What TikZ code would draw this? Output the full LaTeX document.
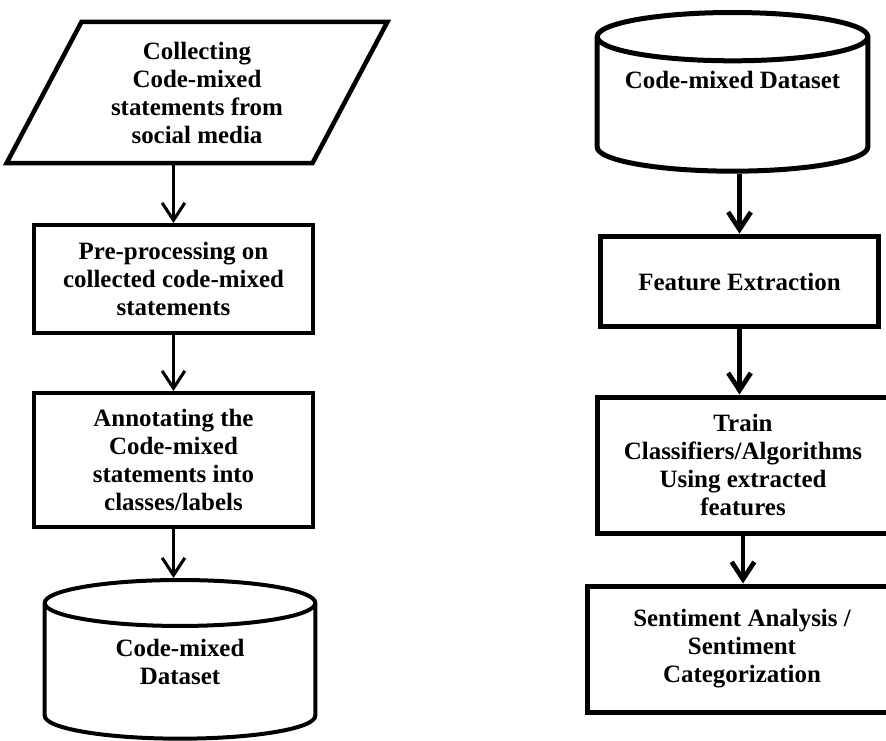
\documentclass[tikz,border=0pt]{standalone}
\usepackage{fontspec}
\setmainfont{Liberation Serif}
\usetikzlibrary{shapes.geometric,arrows.meta}

\tikzset{
  every node/.style={font=\fontsize{18.7}{21}\selectfont\bfseries, align=center},
  procbox/.style={draw, rectangle, line width=#1},
  procbox/.default=3pt,
  datacyl/.style={draw, cylinder, shape border rotate=90, aspect=0.22, anchor=north,
                  text width=#1, minimum width=203pt, minimum height=119pt},
  flow/.style={-{Straight Barb[length=13pt,width=17pt]}, line width=#1},
  flow/.default=2.3pt
}

\begin{document}
\begin{tikzpicture}[x=0.75pt,y=-0.75pt]
\useasboundingbox (0,0) rectangle (886,740);

% left column: building the dataset
\node[draw, trapezium, trapezium left angle=62, trapezium right angle=118, line width=3.4pt,
      minimum width=211pt, minimum height=106pt] (collect) at (197,92.5)
  {Collecting\\Code-mixed\\statements from\\social media};
\node[procbox, minimum width=209pt, minimum height=81pt] (preproc) at (173.5,279)
  {Pre-processing on\\collected code-mixed\\statements};
\node[procbox, minimum width=209pt, minimum height=100.5pt] (annot) at (173.5,460)
  {Annotating the\\Code-mixed\\statements into\\classes/labels};
\node[datacyl=150pt, line width=3pt] (dataL) at (180,578) {};
\node (dataLtext) at (180,662) {Code-mixed\\Dataset};

\draw[flow] (collect.south -| preproc.north) -- (preproc.north);
\draw[flow] (preproc.south) -- (preproc.south |- annot.north);
\draw[flow] (annot.south) -- (annot.south |- dataL.north);

% right column: classification
\node[datacyl=158pt, line width=3.75pt] (dataR) at (732.5,10) {};
\node (dataRtext) at (732.5,80) {Code-mixed Dataset};
\node[procbox=3.75pt, minimum width=208pt, minimum height=68pt] (feat) at (739.5,281.5)
  {Feature Extraction};
\node[procbox=3.75pt, minimum width=219pt, minimum height=102pt] (train) at (743,465)
  {Train\\Classifiers/Algorithms\\Using extracted\\features};
\node[procbox=3.75pt, minimum width=232.5pt, minimum height=94.5pt] (senti) at (742,649)
  {Sentiment Analysis /\\Sentiment\\Categorization};

\draw[flow=3.5pt] (dataR.south -| feat.north) -- (feat.north);
\draw[flow=3.5pt] (feat.south) -- (feat.south |- train.north);
\draw[flow=3.5pt] (train.south) -- (train.south |- senti.north);
\end{tikzpicture}
\end{document}
